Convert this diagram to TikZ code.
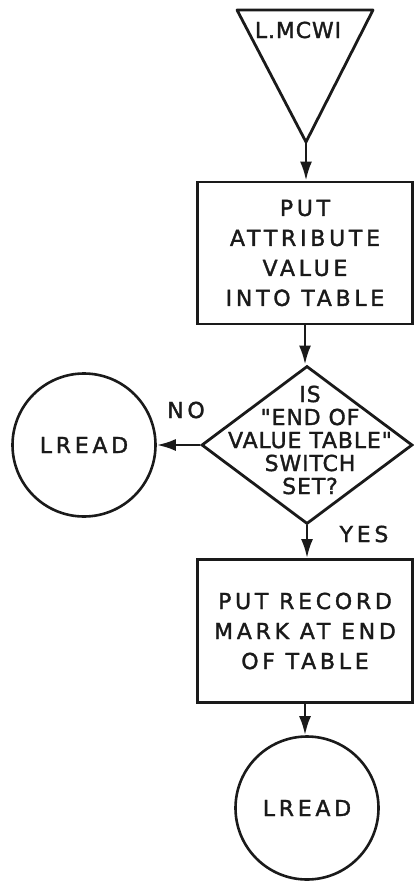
\documentclass[tikz,border=0pt]{standalone}
\usepackage{fontspec}
\newfontfamily\lettering[LetterSpace=17, FakeBold=1.6]{DejaVu Sans}
\newfontfamily\tightlettering[LetterSpace=4, FakeBold=1.6]{DejaVu Sans}
\usetikzlibrary{arrows.meta,shapes.geometric}
\definecolor{ink}{HTML}{1A1A1A}

\tikzset{
  process/.style={draw=ink, rectangle, line width=2.8pt, minimum width=215pt,
    minimum height=142pt, align=center, text=ink,
    font=\lettering\fontsize{22}{30}\selectfont},
  decision/.style={draw=ink, diamond, line width=2.8pt, minimum width=211pt,
    minimum height=158pt, inner sep=0pt},
  question/.style={align=center, text=ink, inner sep=0pt,
    font=\tightlettering\fontsize{22}{23}\selectfont},
  exit/.style={draw=ink, circle, line width=2.6pt, minimum size=143pt,
    inner sep=0pt, text=ink, font=\lettering\fontsize{22}{24}\selectfont},
  answer/.style={text=ink, inner sep=0pt, font=\lettering\fontsize{22}{24}\selectfont},
  flow/.style={draw=ink, line width=2.6pt, -{Latex[length=19pt,width=12pt]}}
}

\begin{document}
\begin{tikzpicture}[x=1pt, y=-1pt]
    \useasboundingbox (0,0) rectangle (414,882);

    % Entry triangle
    \draw[ink, line width=2.8pt, line join=round] (237,10) -- (373,10) -- (306,142) -- cycle;
    \coordinate (entry) at (306,142);
    \node[question] (mcwi) at (298,30) {L.MCWI};

    % Steps
    \node[process] (put) at (305,253) {PUT\\ATTRIBUTE\\VALUE\\INTO TABLE};
    \node[decision] (test) at (307,445) {};
    \node[question] (testtext) at (310,440) {IS\\"END OF\\VALUE TABLE"\\SWITCH\\SET?};
    \node[process, minimum height=143pt] (mark) at (305,631) {PUT RECORD\\MARK AT END\\OF TABLE};

    % Exits
    \node[exit] (lreadno) at (84,445) {LREAD};
    \node[exit] (lreadend) at (307,808) {LREAD};

    % Connectors
    \draw[flow] (entry) -- (entry |- put.north);
    \draw[flow] (put.south) -- (put.south |- test.north);
    \draw[flow] (test.west) -- (lreadno.east);
    \draw[flow] (test.south) -- (test.south |- mark.north);
    \draw[flow] (mark.south) -- (mark.south |- lreadend.north);

    % Branch labels
    \node[answer] (no) at (186,410) {NO};
    \node[answer] (yes) at (364,534) {YES};
\end{tikzpicture}
\end{document}
